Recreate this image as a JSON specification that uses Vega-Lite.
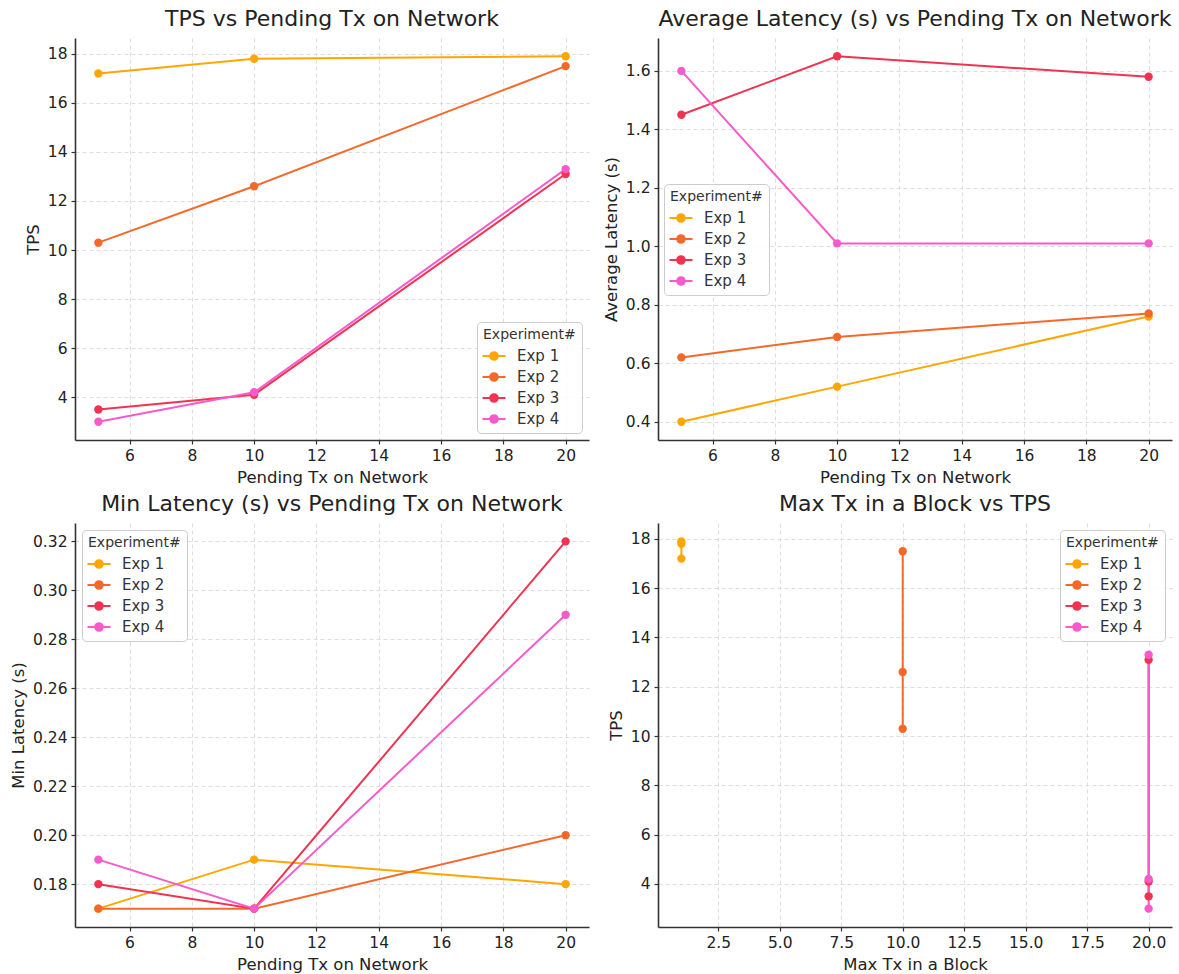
{
  "$schema": "https://vega.github.io/schema/vega-lite/v6.json",
  "background": "white",
  "padding": {"left": 10, "top": 8, "right": 5, "bottom": 5},
  "bounds": "flush",
  "columns": 2,
  "spacing": {"row": 83, "column": 69},
  "datasets": {
    "exp": [
      {"exp": "Exp 1", "pending": 5, "tps": 17.2, "avg": 0.40, "min": 0.17, "maxtx": 1},
      {"exp": "Exp 1", "pending": 10, "tps": 17.8, "avg": 0.52, "min": 0.19, "maxtx": 1},
      {"exp": "Exp 1", "pending": 20, "tps": 17.9, "avg": 0.76, "min": 0.18, "maxtx": 1},
      {"exp": "Exp 2", "pending": 5, "tps": 10.3, "avg": 0.62, "min": 0.17, "maxtx": 10},
      {"exp": "Exp 2", "pending": 10, "tps": 12.6, "avg": 0.69, "min": 0.17, "maxtx": 10},
      {"exp": "Exp 2", "pending": 20, "tps": 17.5, "avg": 0.77, "min": 0.20, "maxtx": 10},
      {"exp": "Exp 3", "pending": 5, "tps": 3.5, "avg": 1.45, "min": 0.18, "maxtx": 20},
      {"exp": "Exp 3", "pending": 10, "tps": 4.1, "avg": 1.65, "min": 0.17, "maxtx": 20},
      {"exp": "Exp 3", "pending": 20, "tps": 13.1, "avg": 1.58, "min": 0.32, "maxtx": 20},
      {"exp": "Exp 4", "pending": 5, "tps": 3.0, "avg": 1.60, "min": 0.19, "maxtx": 20},
      {"exp": "Exp 4", "pending": 10, "tps": 4.2, "avg": 1.01, "min": 0.17, "maxtx": 20},
      {"exp": "Exp 4", "pending": 20, "tps": 13.3, "avg": 1.01, "min": 0.29, "maxtx": 20}
    ]
  },
  "concat": [
    {
      "data": {"name": "exp"},
      "width": 514, "height": 402,
      "title": "TPS vs Pending Tx on Network",
      "mark": {"type": "line", "strokeWidth": 2, "point": {"filled": true, "size": 70}},
      "encoding": {
        "x": {"field": "pending", "type": "quantitative", "title": "Pending Tx on Network",
              "scale": {"domain": [4.25, 20.75], "nice": false, "zero": false},
              "axis": {"values": [6, 8, 10, 12, 14, 16, 18, 20]}},
        "y": {"field": "tps", "type": "quantitative", "title": "TPS",
              "scale": {"domain": [2.255, 18.645], "nice": false, "zero": false},
              "axis": {"values": [4, 6, 8, 10, 12, 14, 16, 18]}},
        "color": {"field": "exp", "type": "nominal",
                  "scale": {"domain": ["Exp 1", "Exp 2", "Exp 3", "Exp 4"], "range": ["#FFA600", "#F4692A", "#F03352", "#F75BCB"]},
                  "legend": {"title": "Experiment#", "orient": "bottom-right", "offset": 7}}
      }
    },
    {
      "data": {"name": "exp"},
      "width": 514, "height": 402,
      "title": "Average Latency (s) vs Pending Tx on Network",
      "mark": {"type": "line", "strokeWidth": 2, "point": {"filled": true, "size": 70}},
      "encoding": {
        "x": {"field": "pending", "type": "quantitative", "title": "Pending Tx on Network",
              "scale": {"domain": [4.25, 20.75], "nice": false, "zero": false},
              "axis": {"values": [6, 8, 10, 12, 14, 16, 18, 20]}},
        "y": {"field": "avg", "type": "quantitative", "title": "Average Latency (s)",
              "scale": {"domain": [0.3375, 1.7125], "nice": false, "zero": false},
              "axis": {"values": [0.4, 0.6, 0.8, 1.0, 1.2, 1.4, 1.6], "format": ".1f"}},
        "color": {"field": "exp", "type": "nominal",
                  "scale": {"domain": ["Exp 1", "Exp 2", "Exp 3", "Exp 4"], "range": ["#FFA600", "#F4692A", "#F03352", "#F75BCB"]},
                  "legend": {"title": "Experiment#", "orient": "none", "legendX": 6, "legendY": 146}}
      }
    },
    {
      "data": {"name": "exp"},
      "width": 514, "height": 404,
      "title": "Min Latency (s) vs Pending Tx on Network",
      "mark": {"type": "line", "strokeWidth": 2, "point": {"filled": true, "size": 70}},
      "encoding": {
        "x": {"field": "pending", "type": "quantitative", "title": "Pending Tx on Network",
              "scale": {"domain": [4.25, 20.75], "nice": false, "zero": false},
              "axis": {"values": [6, 8, 10, 12, 14, 16, 18, 20]}},
        "y": {"field": "min", "type": "quantitative", "title": "Min Latency (s)",
              "scale": {"domain": [0.1625, 0.3275], "nice": false, "zero": false},
              "axis": {"values": [0.18, 0.2, 0.22, 0.24, 0.26, 0.28, 0.3, 0.32], "format": ".2f"}},
        "color": {"field": "exp", "type": "nominal",
                  "scale": {"domain": ["Exp 1", "Exp 2", "Exp 3", "Exp 4"], "range": ["#FFA600", "#F4692A", "#F03352", "#F75BCB"]},
                  "legend": {"title": "Experiment#", "orient": "top-left", "offset": 7}}
      }
    },
    {
      "data": {"name": "exp"},
      "width": 514, "height": 404,
      "title": "Max Tx in a Block vs TPS",
      "mark": {"type": "line", "strokeWidth": 2, "point": {"filled": true, "size": 70}},
      "encoding": {
        "x": {"field": "maxtx", "type": "quantitative", "title": "Max Tx in a Block",
              "scale": {"domain": [0.05, 20.95], "nice": false, "zero": false},
              "axis": {"values": [2.5, 5, 7.5, 10, 12.5, 15, 17.5, 20], "format": ".1f"}},
        "y": {"field": "tps", "type": "quantitative", "title": "TPS",
              "scale": {"domain": [2.255, 18.645], "nice": false, "zero": false},
              "axis": {"values": [4, 6, 8, 10, 12, 14, 16, 18]}},
        "color": {"field": "exp", "type": "nominal",
                  "scale": {"domain": ["Exp 1", "Exp 2", "Exp 3", "Exp 4"], "range": ["#FFA600", "#F4692A", "#F03352", "#F75BCB"]},
                  "legend": {"title": "Experiment#", "orient": "top-right", "offset": 7}}
      }
    }
  ],
  "resolve": {"scale": {"color": "independent"}, "legend": {"color": "independent"}},
  "config": {
    "font": "DejaVu Sans",
    "view": {"stroke": null},
    "axis": {
      "grid": true, "gridDash": [4, 3], "gridColor": "#d4d4d4", "gridWidth": 0.8,
      "domainColor": "#333333", "domainWidth": 1.6,
      "tickColor": "#333333", "tickSize": 4, "tickWidth": 1.2,
      "labelFontSize": 15.5, "labelColor": "#222222", "labelPadding": 4,
      "titleFontSize": 16.5, "titleFontWeight": "normal", "titleColor": "#222222", "titlePadding": 6
    },
    "title": {"fontSize": 22, "fontWeight": "normal", "color": "#222222", "offset": 7},
    "legend": {
      "fillColor": "rgba(255,255,255,0.85)", "strokeColor": "#cccccc", "cornerRadius": 4,
      "padding": 6, "titleFontSize": 14, "titleFontWeight": "normal", "titleColor": "#333333",
      "labelFontSize": 15, "labelColor": "#333333", "titlePadding": 3, "rowPadding": 2,
      "symbolType": "M-1.15,0L1.15,0M-0.38,0A0.38,0.38,0,1,0,0.38,0A0.38,0.38,0,1,0,-0.38,0M-0.2,0A0.2,0.2,0,1,0,0.2,0A0.2,0.2,0,1,0,-0.2,0M-0.05,0A0.05,0.05,0,1,0,0.05,0A0.05,0.05,0,1,0,-0.05,0",
      "symbolSize": 400, "symbolStrokeWidth": 2, "labelOffset": 12
    }
  }
}
